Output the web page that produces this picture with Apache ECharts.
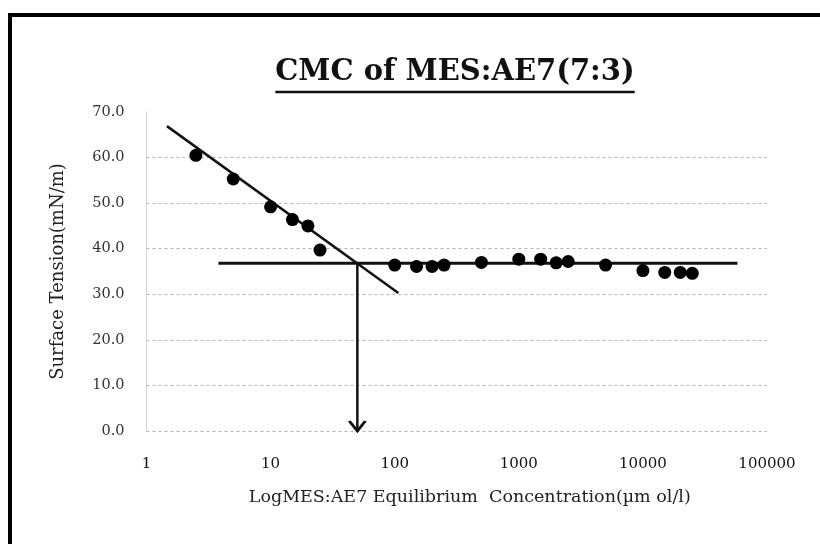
<!DOCTYPE html>
<html>
<head>
<meta charset="utf-8">
<script src="https://cdn.jsdelivr.net/npm/echarts@6/dist/echarts.min.js"></script>
<style>
html,body{margin:0;padding:0;background:#fff;}
#chart{width:820px;height:544px;}
</style>
</head>
<body>
<div id="chart"></div>
<script>
// ---- data ----
const titleText = 'CMC of MES:AE7(7:3)';
const xAxisName = 'LogMES:AE7 Equilibrium  Concentration(\u00b5m ol/l)';
const yAxisName = 'Surface Tension(mN/m)';
const concentration = [2.5, 5, 10, 15, 20, 25, 100, 150, 200, 250, 500, 1000, 1500, 2000, 2500, 5000, 10000, 15000, 20000, 25000];
const surfaceTension = [60.5, 55.3, 49.2, 46.4, 45.0, 39.7, 36.4, 36.1, 36.1, 36.4, 37.0, 37.7, 37.7, 36.9, 37.2, 36.4, 35.2, 34.8, 34.8, 34.6];
const slopeLineX = [1.46, 107];
const slopeLineY = [66.9, 30.3];
const plateauLineX = [3.8, 57800];
const plateauLineY = [36.8, 36.8];
const cmcX = [50, 50];
const cmcY = [36.8, 0];

const serif = "'DejaVu Serif','Liberation Serif',serif";
const chart = echarts.init(document.getElementById('chart'));

// measure title width for underline
const titleFont = 'bold 29px ' + serif;
const cv = document.createElement('canvas').getContext('2d');
cv.font = titleFont;
const tw = cv.measureText(titleText).width;
const tcx = 455;

const zip = (a, b) => a.map((v, i) => [v, b[i]]);

const option = {
  backgroundColor: '#fff',
  animation: false,
  grid: { left: 146.5, right: 53, top: 112, bottom: 113 },
  graphic: [
    { type: 'rect', shape: { x: 10, y: 15, width: 900, height: 700 }, style: { fill: 'none', stroke: '#000', lineWidth: 4 }, silent: true },
    { type: 'text', style: { text: titleText, x: tcx, y: 72, align: 'center', verticalAlign: 'middle', font: titleFont, fill: '#111' } },
    { type: 'line', shape: { x1: tcx - tw / 2, y1: 92, x2: tcx + tw / 2, y2: 92 }, style: { stroke: '#111', lineWidth: 2.5 } }
  ],
  xAxis: {
    type: 'log', logBase: 10, min: 1, max: 100000,
    name: xAxisName, nameLocation: 'middle', nameGap: 57,
    nameTextStyle: { fontFamily: serif, fontSize: 17.5, color: '#222', padding: [0, 0, 0, 26] },
    axisLine: { show: false }, axisTick: { show: false },
    axisLabel: { fontFamily: serif, fontSize: 15, color: '#111', margin: 26, formatter: v => String(Math.round(v)) },
    splitLine: { show: false }
  },
  yAxis: {
    type: 'value', min: 0, max: 70, interval: 10,
    name: yAxisName, nameLocation: 'middle', nameGap: 79, nameRotate: 90,
    nameTextStyle: { fontFamily: serif, fontSize: 18, color: '#222' },
    axisLine: { show: true, lineStyle: { color: '#ccc', type: 'dotted' } },
    axisTick: { show: false },
    axisLabel: { fontFamily: serif, fontSize: 14.5, color: '#333', margin: 22, formatter: v => v.toFixed(1) },
    splitLine: { show: true, lineStyle: { color: ['#b4b4b4', '#b4b4b4', '#b4b4b4', '#b4b4b4', '#b4b4b4', '#b4b4b4', '#b4b4b4', 'rgba(0,0,0,0)'], type: [3, 3], width: 1 } }
  },
  series: [
    { type: 'line', data: zip(slopeLineX, slopeLineY), showSymbol: false, symbol: 'none', lineStyle: { color: '#111', width: 2.5 }, z: 3 },
    { type: 'line', data: zip(plateauLineX, plateauLineY), showSymbol: false, symbol: 'none', lineStyle: { color: '#111', width: 3 }, z: 3 },
    { type: 'line', data: [
        { value: [cmcX[0], cmcY[0]], symbol: 'none' },
        { value: [cmcX[1], cmcY[1]], symbol: 'path://M0 0L10 10L20 0', symbolSize: [16, 10], symbolOffset: [0, -5],
          itemStyle: { color: 'rgba(0,0,0,0)', borderColor: '#111', borderWidth: 2.5 } }
      ],
      lineStyle: { color: '#111', width: 2.5 }, z: 3 },
    { type: 'scatter', data: zip(concentration, surfaceTension), symbol: 'circle', symbolSize: 13, itemStyle: { color: '#000', opacity: 1 }, z: 4 }
  ]
};
chart.setOption(option);
</script>
</body>
</html>
